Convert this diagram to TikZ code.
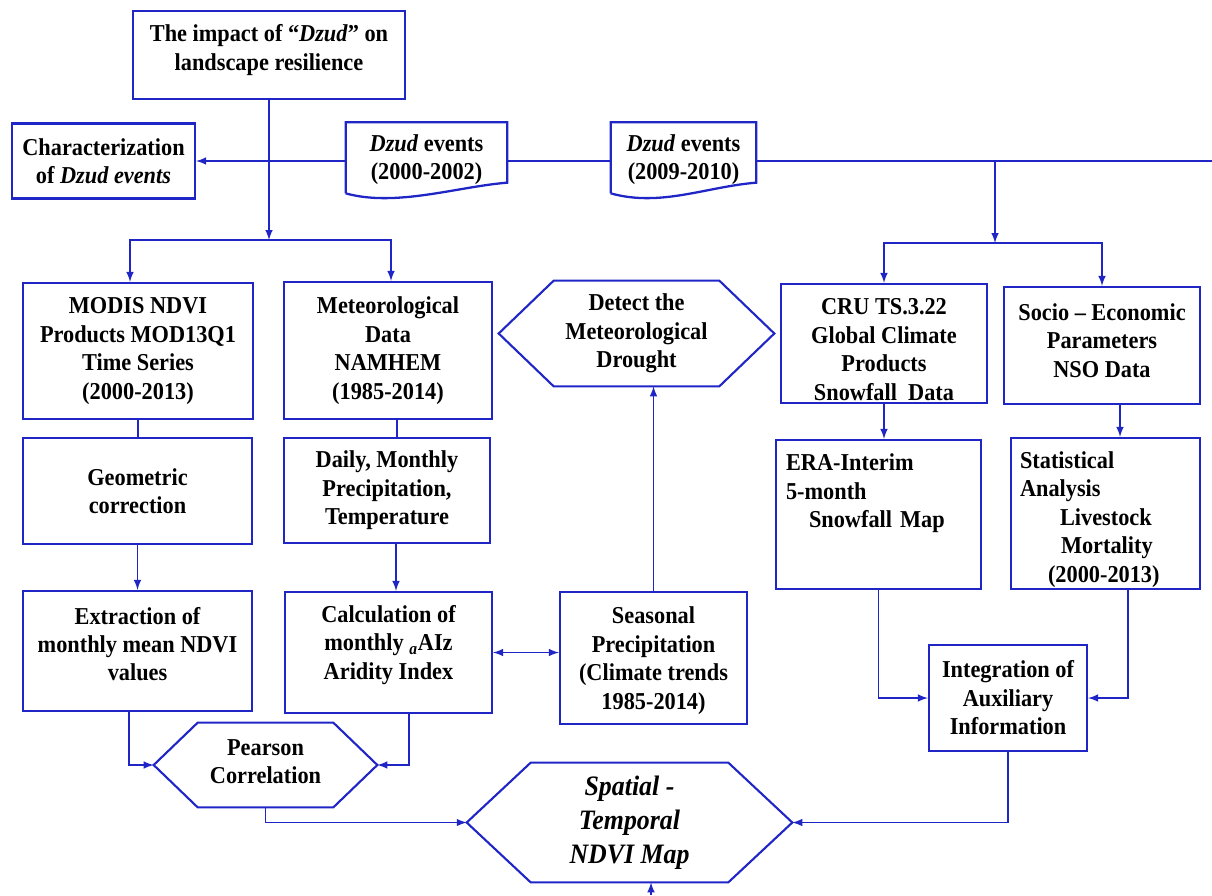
\documentclass[tikz,border=0pt]{standalone}
\usepackage{fontspec}
\setmainfont{Liberation Serif}[FakeStretch=0.92]
\usepackage{tikz}
\usetikzlibrary{calc}
\definecolor{flowblue}{RGB}{32,38,198}
\tikzset{
	flowbox/.style={draw=flowblue, line width=1.3pt, align=center, inner sep=0pt,
		font=\fontsize{13.8}{16.2}\selectfont\bfseries},
	flowtext/.style={align=center, inner sep=0pt,
		font=\fontsize{13.8}{16.2}\selectfont\bfseries},
	conn/.style={flowblue, line width=0.95pt},
	conna/.style={conn, -latex},
}

\begin{document}
\begin{tikzpicture}[x=0.02cm, y=-0.02cm]
	\useasboundingbox (0,0) rectangle (1212,895);
	
	% top row
	\node[flowbox, minimum width=5.44cm, minimum height=1.76cm, text depth=8.7pt] (impact) at (269,55) {The impact of “\textit{Dzud}” on\\landscape resilience};
	\node[flowbox, minimum width=3.66cm, minimum height=1.5cm] (chars) at (103.5,161) {Characterization\\of \textit{Dzud events}};
	\node[flowtext, minimum width=3.22cm, minimum height=1.54cm, text depth=4.7pt] (ev1) at (426.5,161) {\textit{Dzud} events\\(2000-2002)};
	\node[flowtext, minimum width=2.9cm, minimum height=1.54cm, text depth=4.7pt] (ev2) at (683.5,161) {\textit{Dzud} events\\(2009-2010)};
	\foreach \d in {ev1,ev2}
		\draw[flowblue, line width=1.3pt] ([yshift=0.13cm]\d.south west) -- (\d.north west) -- (\d.north east) -- ++(0,60.5) .. controls +(-50,4) and +(50,14) .. ([yshift=0.13cm]\d.south west);
	
	\coordinate (rend) at (1212,161);
	\coordinate (br1) at (269,240);
	\coordinate (br2) at (995,243);
	
	% left part
	\node[flowbox, minimum width=4.6cm, minimum height=2.72cm] (modis) at (138,351) {MODIS NDVI\\Products MOD13Q1\\Time Series\\(2000-2013)};
	\node[flowbox, minimum width=4.16cm, minimum height=2.74cm] (meteo) at (388,350.5) {Meteorological\\Data\\NAMHEM\\(1985-2014)};
	\node[flowbox, minimum width=4.58cm, minimum height=2.12cm] (geo) at (137.5,491) {Geometric\\correction};
	\node[flowbox, minimum width=4.12cm, minimum height=2.1cm] (daily) at (387,490.5) {Daily, Monthly\\Precipitation,\\Temperature};
	\node[flowbox, minimum width=4.58cm, minimum height=2.4cm, text depth=8pt] (extr) at (137.5,651) {Extraction of\\monthly mean NDVI\\values};
	\node[flowbox, minimum width=4.14cm, minimum height=2.42cm, text depth=11.6pt] (calc) at (388.5,652.5) {Calculation of\\monthly \textsubscript{\textit{a}}AIz\\Aridity Index};
	\node[flowbox, minimum width=3.74cm, minimum height=2.64cm, text height=61.4pt] (seas) at (653.5,658) {Seasonal\\Precipitation\\(Climate trends\\1985-2014)};
	
	% hexagons
	\node[flowtext, minimum width=5.5cm, minimum height=2.1cm] (det) at (636.5,333.5) {Detect the\\Meteorological\\Drought};
	\node[flowtext, minimum width=4.46cm, minimum height=1.68cm, text depth=4pt] (pear) at (265.5,765) {Pearson\\Correlation};
	\node[flowtext, minimum width=6.5cm, minimum height=2.38cm, font=\fontsize{16}{19.4}\selectfont\bfseries\itshape] (spat) at (629.5,822.5) {Spatial -\\Temporal\\NDVI Map};
	\foreach \h/\s in {det/1.1cm, pear/0.88cm, spat/1.28cm}
		\draw[flowblue, line width=1.2pt] (\h.west) -- ([xshift=\s]\h.north west) -- ([xshift=-\s]\h.north east) -- (\h.east) -- ([xshift=-\s]\h.south east) -- ([xshift=\s]\h.south west) -- cycle;
	
	% right part
	\node[flowbox, minimum width=4.12cm, minimum height=2.38cm, text height=64.7pt] (cru) at (884,343.5) {CRU TS.3.22\\Global Climate\\Products\\Snowfall~ Data};
	\node[flowbox, minimum width=3.92cm, minimum height=2.34cm, text depth=5.7pt] (socio) at (1102,345.5) {Socio – Economic\\Parameters\\NSO Data};
	\node[flowbox, align=left, text width=3.7cm, inner xsep=0.2cm, minimum height=2.98cm, text depth=59.4pt] (era) at (878.5,514.5) {ERA-Interim\\5-month\\\hspace*{0.46cm}Snowfall Map};
	\node[flowbox, align=left, text width=3.42cm, inner xsep=0.18cm, minimum height=3.02cm, text depth=61pt] (stat) at (1105.5,513.5) {Statistical\\Analysis\\\hspace*{0.8cm}Livestock\\\hspace*{0.82cm}Mortality\\\hspace*{0.56cm}(2000-2013)};
	\node[flowbox, minimum width=3.16cm, minimum height=2.12cm] (integ) at (1008,698) {Integration of\\Auxiliary\\Information};
	\coordinate (stub) at (651,895);
	
	% connectors
	\draw[conna] (impact) -- (br1);
	\draw[conna] (ev1) -- (chars);
	\draw[conn] (ev1) -- (ev2);
	\draw[conn] (ev2) -- (rend);
	\draw[conna] (ev2 -| br2) -- (br2);
	\draw[conna] (br1) -| ([xshift=-0.16cm]modis.north);
	\draw[conna] (br1) -| ([xshift=0.06cm]meteo.north);
	\draw[conna] (br2) -| (cru);
	\draw[conna] (br2) -| (socio);
	
	\draw[conn] (modis.south) -- (modis.south |- geo.north);
	\draw[conn] ([xshift=0.18cm]meteo.south) -- ([xshift=0.18cm]meteo.south |- daily.north);
	\draw[conna] (geo) -- (extr);
	\draw[conna] ([xshift=0.18cm]daily.south) -- ([xshift=0.18cm]daily.south |- calc.north);
	\draw[conna] ([xshift=-0.17cm]extr.south) |- (pear);
	\draw[conna] ([xshift=0.41cm]calc.south) |- (pear);
	\draw[conn, latex-latex] (calc) -- (calc -| seas.west);
	\draw[conna] (pear) |- (spat);
	\draw[conna] (seas) -- (seas |- det.south);
	
	\draw[conna] (cru) -- (cru |- era.north);
	\draw[conna] ([xshift=0.36cm]socio.south) -- ([xshift=0.36cm]socio.south |- stat.north);
	\draw[conna] (era) |- (integ);
	\draw[conna] ([xshift=0.45cm]stat.south) |- (integ);
	\draw[conna] (integ) |- (spat);
	\draw[conna] (stub) -- (stub |- spat.south);
\end{tikzpicture}
\end{document}
